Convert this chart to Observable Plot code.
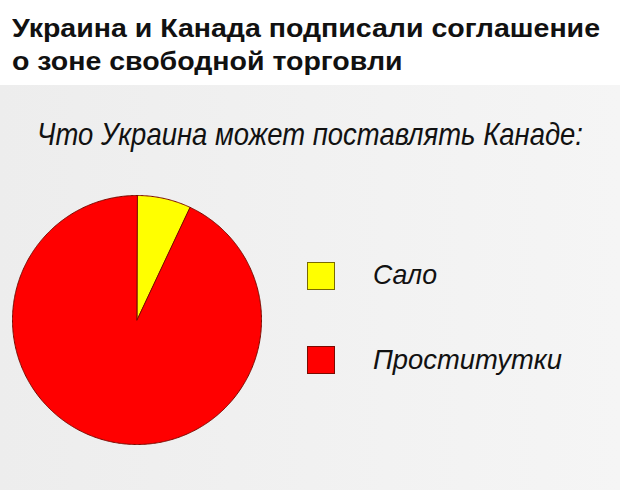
<!DOCTYPE html>
<html>
<head>
<meta charset="utf-8">
<script src="https://cdn.jsdelivr.net/npm/d3@7"></script>
<script src="https://cdn.jsdelivr.net/npm/@observablehq/plot@0.6"></script>
<style>
  html, body { margin: 0; padding: 0; width: 620px; height: 490px; overflow: hidden; background: #fff; }
  #header { height: 85px; background: #fff; position: relative; }
  #header .t { position: absolute; left: 12px; font-family: "Liberation Sans", Arial, sans-serif; font-weight: bold; font-size: 26.5px; color: #111; white-space: nowrap; line-height: 1; transform-origin: 0 0; }
  #area { position: relative; height: 405px; background: linear-gradient(to right, #ededed, #f5f5f5); }
  .narrow { font-family: "Liberation Sans Narrow", "Arial Narrow", "Liberation Sans", sans-serif; font-style: italic; color: #111; white-space: nowrap; line-height: 1; position: absolute; transform-origin: 0 0; }
  #sub { left: 37px; top: 33px; font-size: 32px; }
  #chart { position: absolute; left: 11px; top: 108.5px; }
  .sw { position: absolute; left: 307px; width: 26px; height: 26px; border: 1px solid #6b1a00; }
  .lt { left: 373px; font-size: 28px; }
</style>
</head>
<body>
<div id="header">
  <div class="t" id="t1" style="top:14.5px"></div>
  <div class="t" id="t2" style="top:47.5px"></div>
</div>
<div id="area">
  <div class="narrow" id="sub"></div>
  <div id="chart"></div>
  <div id="legend"></div>
</div>
<script>
const titleLines = ["Украина и Канада подписали соглашение", "о зоне свободной торговли"];
const subtitle = "Что Украина может поставлять Канаде:";
const categories = ["Сало", "Проститутки"];
const values = [7, 93];
const colors = ["#ffff00", "#ff0000"];

function fitWidth(el, target) {
  const w = el.getBoundingClientRect().width;
  if (w > 0) el.style.transform = `scaleX(${target / w})`;
}

const t1 = document.getElementById("t1");
const t2 = document.getElementById("t2");
t1.textContent = titleLines[0];
t2.textContent = titleLines[1];
const titleScale = 588 / t1.getBoundingClientRect().width;
t1.style.transform = `scaleX(${titleScale})`;
t2.style.transform = `scaleX(${titleScale})`;

const sub = document.getElementById("sub");
sub.textContent = subtitle;
fitWidth(sub, 546);

const data = categories.map((c, i) => ({category: c, value: values[i]}));
const arcs = d3.pie().sort(null).value(d => d.value)(data);

function slicePolygon(a) {
  const n = Math.max(2, Math.ceil((a.endAngle - a.startAngle) / 0.01));
  const ring = [[0, 0]];
  for (let k = 0; k <= n; k++) {
    const t = a.startAngle + (a.endAngle - a.startAngle) * k / n;
    ring.push([Math.sin(t), -Math.cos(t)]);
  }
  ring.push([0, 0]);
  return {type: "Feature", properties: {category: a.data.category, value: a.data.value}, geometry: {type: "Polygon", coordinates: [ring]}};
}
const features = arcs.map(slicePolygon);
const outline = {type: "Polygon", coordinates: [d3.range(0, 361).map(d => [Math.sin(d * Math.PI / 180), -Math.cos(d * Math.PI / 180)])]};

const plot = Plot.plot({
  width: 251,
  height: 251,
  margin: 0,
  inset: 1,
  projection: {type: "identity", domain: outline},
  color: {domain: categories, range: colors},
  marks: [
    Plot.geo(features, {fill: d => d.properties.category, stroke: "#7a0a00", strokeWidth: 1, strokeLinejoin: "round"})
  ]
});
plot.style.background = "transparent";
plot.style.overflow = "visible";
document.getElementById("chart").appendChild(plot);

const legend = document.getElementById("legend");
const swTops = [177, 261];
const txtTops = [176.3, 261.3];
const txtWidths = [64, 189];
categories.forEach((c, i) => {
  const sw = document.createElement("div");
  sw.className = "sw";
  sw.style.top = swTops[i] + "px";
  sw.style.background = plot.scale("color").apply(c);
  sw.style.borderColor = i === 0 ? "#7a6a00" : "#7a0a00";
  legend.appendChild(sw);
  const t = document.createElement("div");
  t.className = "narrow lt";
  t.style.top = txtTops[i] + "px";
  t.textContent = c;
  legend.appendChild(t);
  fitWidth(t, txtWidths[i]);
});
</script>
</body>
</html>
